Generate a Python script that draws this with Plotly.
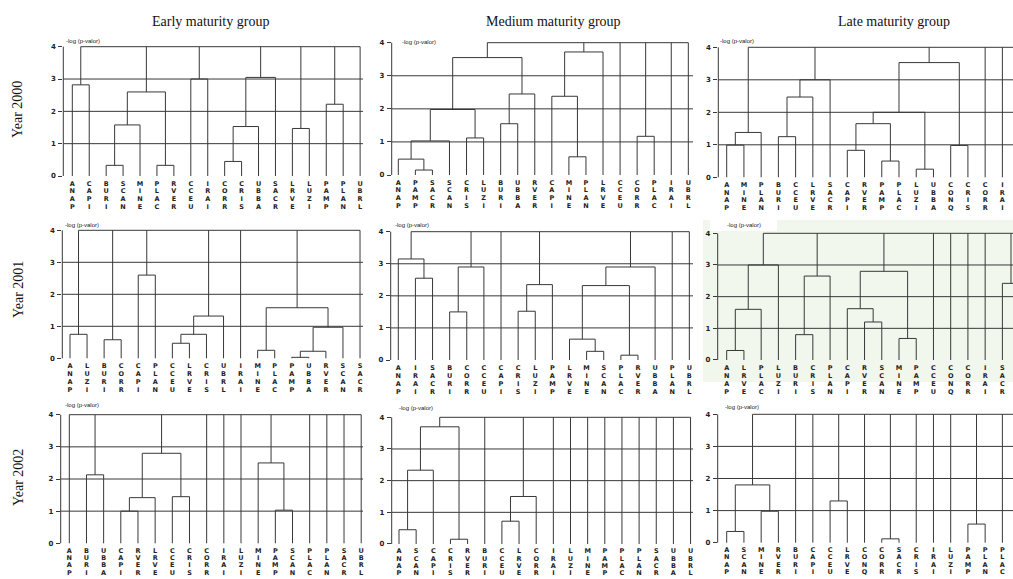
import plotly.graph_objects as go

W, H = 1013, 579
LINE = "#383838"

# ---------------- leaf orders and merges ----------------
# merges: (left, right, height); an int refers to an earlier merge in the same list
leaves_2000_early = ["ANAP", "CAPI", "BURI", "SCAN", "MINE", "PLAC", "RVER", "CCEU", "IRAI",
                     "CORR", "CRIS", "UBBA", "SACR", "LRVE", "LUZI", "PAMP", "PLAN", "UBRL"]
merges_2000_early = [("ANAP", "CAPI", 2.82), ("BURI", "SCAN", 0.33), (1, "MINE", 1.58),
                     ("PLAC", "RVER", 0.33), (2, 3, 2.60), ("CCEU", "IRAI", 3.00),
                     ("CORR", "CRIS", 0.45), (6, "UBBA", 1.53), (7, "SACR", 3.05),
                     ("LRVE", "LUZI", 1.47), ("PAMP", "PLAN", 2.22)]

leaves_2000_medium = ["ANAP", "PAMP", "SACR", "SCAN", "CRIS", "LUZI", "BURI", "UBBA", "RVER",
                      "CAPI", "MINE", "PLAN", "LRVE", "CCEU", "CORR", "PLAC", "IRAI", "UBRL"]
merges_2000_medium = [("PAMP", "SACR", 0.15), ("ANAP", 0, 0.48), (1, "SCAN", 1.03),
                      ("CRIS", "LUZI", 1.12), (2, 3, 1.98), ("BURI", "UBBA", 1.55),
                      (5, "RVER", 2.45), (4, 6, 3.55), ("MINE", "PLAN", 0.55),
                      ("CAPI", 8, 2.38), (9, "LRVE", 3.72), ("CORR", "PLAC", 1.17)]

leaves_2000_late = ["ANAP", "MINE", "PLAN", "BURI", "CCEU", "LRVE", "SACR", "CAPI", "RVER",
                    "PAMP", "PLAC", "LUZI", "UBBA", "CONQ", "CRIS", "CORR", "IRAI",
                    "SCAN", "UBRL"]
merges_2000_late = [("ANAP", "MINE", 0.99), (0, "PLAN", 1.38), ("BURI", "CCEU", 1.25),
                    (2, "LRVE", 2.47), (3, "SACR", 3.00), ("CAPI", "RVER", 0.83),
                    ("PAMP", "PLAC", 0.50), (5, 6, 1.65), ("LUZI", "UBBA", 0.25),
                    (7, 8, 2.00), ("CONQ", "CRIS", 0.98), (9, 10, 3.53)]

leaves_2001_early = ["ANAP", "LUZI", "BURI", "CORR", "CAPI", "PLAN", "CCEU", "LRVE", "CRIS",
                     "UBRL", "IRAI", "MINE", "PLAC", "PAMP", "UBBA", "RVER", "SCAN", "SACR"]
merges_2001_early = [("ANAP", "LUZI", 0.75), ("BURI", "CORR", 0.58), ("CAPI", "PLAN", 2.60),
                     ("CCEU", "LRVE", 0.47), (3, "CRIS", 0.75), (4, "UBRL", 1.32),
                     ("MINE", "PLAC", 0.25), ("PAMP", "UBBA", 0.03), (7, "RVER", 0.22),
                     (8, "SCAN", 0.97), (6, 9, 1.58)]

leaves_2001_medium = ["ANAP", "IRAI", "SACR", "BURI", "CORR", "CCEU", "CAPI", "CRIS", "LUZI",
                      "PAMP", "LRVE", "MINE", "SCAN", "PLAC", "RVER", "UBBA", "PLAN", "UBRL"]
merges_2001_medium = [("IRAI", "SACR", 2.55), ("ANAP", 0, 3.15), ("BURI", "CORR", 1.50),
                      (2, "CCEU", 2.90), ("CRIS", "LUZI", 1.52), (4, "PAMP", 2.35),
                      ("MINE", "SCAN", 0.27), ("LRVE", 6, 0.65), ("PLAC", "RVER", 0.15),
                      (7, 8, 2.32), (9, "UBBA", 2.90)]

leaves_2001_late = ["ANAP", "LRVE", "PLAC", "LUZI", "BURI", "CRIS", "PLAN", "CAPI", "RVER",
                    "SCAN", "MINE", "PAMP", "CCEU", "CONQ", "CORR", "IRAI", "SACR",
                    "UBRL", "UBBA"]
merges_2001_late = [("ANAP", "LRVE", 0.30), (0, "PLAC", 1.60), (1, "LUZI", 3.00),
                    ("BURI", "CRIS", 0.80), (3, "PLAN", 2.65), ("RVER", "SCAN", 1.20),
                    ("CAPI", 5, 1.62), ("MINE", "PAMP", 0.68), (6, 7, 2.80),
                    ("SACR", "UBRL", 2.42)]

leaves_2002_early = ["ANAP", "BURI", "UBBA", "CAPI", "RVER", "LRVE", "CCEU", "CRIS", "CORR",
                     "IRAI", "LUZI", "MINE", "PAMP", "SCAN", "PLAC", "PLAN", "SACR", "UBRL"]
merges_2002_early = [("BURI", "UBBA", 2.13), ("CAPI", "RVER", 1.00), (1, "LRVE", 1.42),
                     ("CCEU", "CRIS", 1.45), (2, 3, 2.80), ("PAMP", "SCAN", 1.03),
                     ("MINE", 5, 2.50)]

leaves_2002_medium = ["ANAP", "SCAN", "CAPI", "CRIS", "RVER", "BURI", "CCEU", "LRVE", "CORR",
                      "IRAI", "LUZI", "MINE", "PAMP", "PLAC", "PLAN", "SACR", "UBBA", "UBRL"]
merges_2002_medium = [("ANAP", "SCAN", 0.45), (0, "CAPI", 2.33), ("CRIS", "RVER", 0.15),
                      (1, 2, 3.70), ("CCEU", "LRVE", 0.72), (4, "CORR", 1.50)]

leaves_2002_late = ["ANAP", "SCAN", "MINE", "RVER", "BURI", "CAPI", "CCEU", "LRVE", "CONQ",
                    "CORR", "SACR", "CRIS", "IRAI", "LUZI", "PAMP", "PLAN", "PLAC",
                    "UBBA", "UBRL"]
merges_2002_late = [("ANAP", "SCAN", 0.35), ("MINE", "RVER", 0.98), (0, 1, 1.80),
                    ("CCEU", "LRVE", 1.30), ("CORR", "SACR", 0.12), ("PAMP", "PLAN", 0.58)]

years = ["Year 2000", "Year 2001", "Year 2002"]
groups = ["Early maturity group", "Medium maturity group", "Late maturity group"]
y_ticks = [0, 1, 2, 3, 4]
grid_levels = [1, 2, 3]
ROOT = 4.0

panels = [
    [(leaves_2000_early, merges_2000_early), (leaves_2000_medium, merges_2000_medium),
     (leaves_2000_late, merges_2000_late)],
    [(leaves_2001_early, merges_2001_early), (leaves_2001_medium, merges_2001_medium),
     (leaves_2001_late, merges_2001_late)],
    [(leaves_2002_early, merges_2002_early), (leaves_2002_medium, merges_2002_medium),
     (leaves_2002_late, merges_2002_late)],
]

# pixel geometry of each panel: axis x, first leaf x, leaf step, right edge, y of 0, y of 4
geometry = [
    [(63.3, 72.3, 16.93, 363, 176.0, 46.7), (391.7, 398.3, 17.06, 693, 175.0, 42.7),
     (718.3, 726.7, 17.23, 1013, 177.3, 47.3)],
    [(62.3, 70.0, 17.06, 363, 358.3, 230.3), (390.7, 398.3, 17.12, 693, 360.0, 231.7),
     (717.7, 726.7, 17.23, 1013, 360.0, 233.3)],
    [(60.7, 69.3, 17.17, 363, 543.3, 414.7), (391.7, 399.0, 17.15, 693, 544.0, 417.3),
     (717.7, 726.7, 17.23, 1013, 542.7, 414.3)],
]
# vertical leaf labels per row: offset of first letter below 0 and letter pitch (px)
label_rows = [(8.0, 7.7), (8.4, 8.0), (7.7, 7.3)]
# position of the "-log (p-valor)" caption (left x, centre y) in each panel
caption_pos = [
    [(64, 40.8), (400, 42.3), (718, 40.5)],
    [(63, 224.5), (393, 224.5), (725, 225.0)],
    [(63, 404.5), (397, 407.5), (723, 407.0)],
]


def dendrogram_path(leaves, merges, root=ROOT):
    pos = {lab: i for i, lab in enumerate(leaves)}
    node_x, node_h = [], []
    used = set()
    xs, ys = [], []

    def where(ref):
        if isinstance(ref, int):
            return node_x[ref], node_h[ref]
        return float(pos[ref]), 0.0

    for a, b, h in merges:
        xa, ha = where(a)
        xb, hb = where(b)
        xs += [xa, xa, xb, xb, None]
        ys += [ha, h, h, hb, None]
        used.add(("m", a) if isinstance(a, int) else ("l", a))
        used.add(("m", b) if isinstance(b, int) else ("l", b))
        node_x.append((xa + xb) / 2)
        node_h.append(h)

    tops = [where(i) for i in range(len(merges)) if ("m", i) not in used]
    tops += [where(l) for l in leaves if ("l", l) not in used]
    tops.sort(key=lambda p: p[0])
    for x, h in tops:
        xs += [x, x, None]
        ys += [h, root, None]
    xs += [tops[0][0], tops[-1][0], None]
    ys += [root, root, None]
    return xs, ys


fig = go.Figure()
layout = dict(
    width=W, height=H, margin=dict(l=0, r=0, t=0, b=0),
    paper_bgcolor="white", plot_bgcolor="rgba(0,0,0,0)",
    showlegend=False, template="none",
)
shapes, annotations = [], []

# pale highlight behind the 2001 late panel
shapes.append(dict(type="rect", xref="paper", yref="paper", layer="below",
                   x0=703 / W, x1=1.0, y0=1 - 382 / H, y1=1 - 220 / H,
                   fillcolor="#f1f7ed", line=dict(width=0)))
shapes.append(dict(type="rect", xref="paper", yref="paper", layer="below",
                   x0=710 / W, x1=777 / W, y0=1 - 231 / H, y1=1 - 220 / H,
                   fillcolor="white", line=dict(width=0)))

n = 0
for r in range(3):
    for c in range(3):
        n += 1
        leaves, merges = panels[r][c]
        L, x0, s, R, y0, y4 = geometry[r][c]
        d1, pitch = label_rows[r]
        k = (y0 - y4) / 4.0
        pad_top = 0.12
        pad_bot = (d1 + 3 * pitch + 5.5) / k   # room for the leaf names
        top_px = y4 - pad_top * k
        bot_px = min(y0 + pad_bot * k, H)
        pad_bot = (bot_px - y0) / k
        xa = "x" if n == 1 else f"x{n}"
        ya = "y" if n == 1 else f"y{n}"
        x_range = [(L - x0) / s, (R - x0) / s]

        xs, ys = dendrogram_path(leaves, merges)
        fig.add_trace(go.Scatter(x=xs, y=ys, mode="lines", xaxis=xa, yaxis=ya,
                                 line=dict(color=LINE, width=1),
                                 hoverinfo="skip", showlegend=False))

        # leaf names written downwards, one letter per line
        tx, ty, tt = [], [], []
        for i, lab in enumerate(leaves):
            if i > x_range[1]:
                continue
            for j, ch in enumerate(lab):
                tx.append(i)
                ty.append(-(d1 + pitch * j) / k)
                tt.append(ch)
        fig.add_trace(go.Scatter(x=tx, y=ty, text=tt, mode="text", xaxis=xa, yaxis=ya,
                                 textposition="middle center", cliponaxis=False,
                                 textfont=dict(family="DejaVu Sans", size=6.5,
                                               color="#222", weight="bold"),
                                 hoverinfo="skip", showlegend=False))

        key = "" if n == 1 else str(n)
        layout["xaxis" + key] = dict(
            domain=[L / W, R / W], range=x_range,
            anchor=ya, showgrid=False, zeroline=False, showline=False,
            ticks="", showticklabels=False, automargin=False, fixedrange=True,
        )
        layout["yaxis" + key] = dict(
            domain=[1 - bot_px / H, 1 - top_px / H], range=[-pad_bot, ROOT + pad_top],
            anchor=xa, showgrid=False, zeroline=False, showline=False,
            ticks="outside", ticklen=4, tickwidth=1, tickcolor=LINE,
            tickmode="array", tickvals=y_ticks, ticktext=[str(v) for v in y_ticks],
            tickfont=dict(family="DejaVu Sans", size=7, color="#222", weight="bold"),
            automargin=False, fixedrange=True, ticklabelstandoff=1,
        )
        # y axis line and reference levels
        shapes.append(dict(type="line", xref=f"{xa} domain", yref=ya, x0=0, x1=0,
                           y0=0, y1=ROOT, line=dict(color=LINE, width=1)))
        for g in grid_levels:
            shapes.append(dict(type="line", xref=f"{xa} domain", yref=ya, x0=0, x1=1,
                               y0=g, y1=g, line=dict(color=LINE, width=1)))
        cx, cy = caption_pos[r][c]
        annotations.append(dict(text="-log (p-valor)", xref="paper", yref="paper",
                                x=cx / W, y=1 - cy / H, xanchor="left", yanchor="middle",
                                showarrow=False,
                                font=dict(family="Liberation Sans", size=6, color="#222")))

for i, g in enumerate(groups):
    annotations.append(dict(text=g, xref="paper", yref="paper",
                            x=[210, 553, 894][i] / W, y=1 - 21 / H,
                            xanchor="center", yanchor="middle", showarrow=False,
                            font=dict(family="Liberation Serif", size=14, color="#111")))
for i, yl in enumerate(years):
    annotations.append(dict(text=yl, xref="paper", yref="paper",
                            x=18 / W, y=1 - [110, 290, 478][i] / H, textangle=-90,
                            xanchor="center", yanchor="middle", showarrow=False,
                            font=dict(family="Liberation Serif", size=14, color="#111")))

layout["shapes"] = shapes
layout["annotations"] = annotations
fig.update_layout(**layout)
fig.write_html("out.html")
